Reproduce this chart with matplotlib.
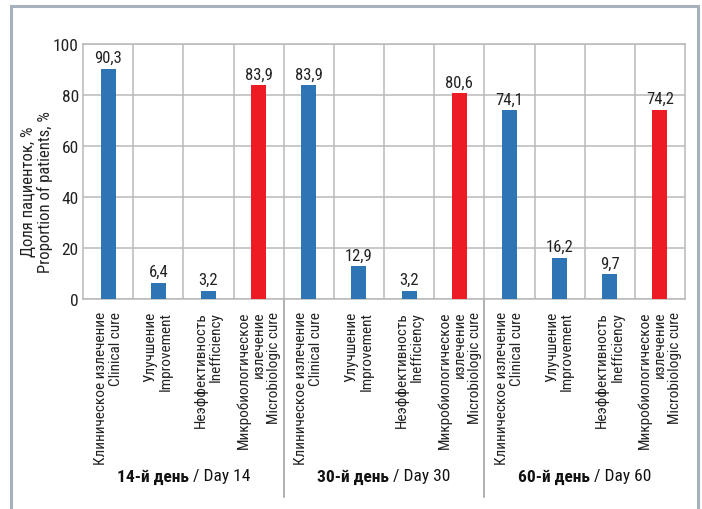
import matplotlib
matplotlib.use("Agg")
import matplotlib.pyplot as plt
from matplotlib.patches import Rectangle
import matplotlib.transforms as mtransforms

plt.rcParams["font.family"] = ["Roboto Condensed", "PT Sans Narrow", "DejaVu Sans"]

# Data
groups_bold = ["14-й день", "30-й день", "60-й день"]
groups_plain = [" / Day 14", " / Day 30", " / Day 60"]
outcomes = [
    "Клиническое излечение\nClinical cure",
    "Улучшение\nImprovement",
    "Неэффективность\nInefficiency",
    "Микробиологическое\nизлечение\nMicrobiologic cure",
]
values_day14 = [90.3, 6.4, 3.2, 83.9]
values_day30 = [83.9, 12.9, 3.2, 80.6]
values_day60 = [74.1, 16.2, 9.7, 74.2]
yticks = [0, 20, 40, 60, 80, 100]

BLUE = "#2e75b6"
RED = "#ed1c24"
GRID = "#b9b9b9"
TEXT = "#222222"

all_values = values_day14 + values_day30 + values_day60
labels = outcomes * 3
colors = [BLUE, BLUE, BLUE, RED] * 3
x = list(range(len(all_values)))

fig = plt.figure(figsize=(7.02, 5.10), dpi=100)
ax = fig.add_axes([83 / 702, 1 - 300 / 510, (685 - 83) / 702, (300 - 45) / 510])

# Outer frame
fig.patches.append(Rectangle((11 / 702, -0.05), (698 - 11) / 702, 1.05 - 7 / 510,
                             transform=fig.transFigure, fill=False,
                             edgecolor="#a7b1bb", linewidth=2.2))

ax.bar(x, all_values, width=0.3, color=colors, zorder=3)
for xi, v in zip(x, all_values):
    ax.text(xi, v + 1.4, f"{v:.1f}".replace(".", ","), ha="center", va="bottom",
            fontsize=12, color=TEXT)

ax.set_xlim(-0.5, len(x) - 0.5)
ax.set_ylim(0, 100)
ax.set_yticks(yticks)
ax.set_yticklabels([str(t) for t in yticks], fontsize=12.5, color=TEXT)
ax.set_xticks(x)
ax.set_xticklabels([])
ax.set_xticks([i - 0.5 for i in range(1, len(x))], minor=True)
ax.tick_params(axis="both", which="both", length=0)
ax.tick_params(axis="y", pad=3)
ax.grid(True, axis="y", color=GRID, linewidth=1.1, zorder=0)
ax.grid(True, axis="x", which="minor", color=GRID, linewidth=1.1, zorder=0)
for s in ax.spines.values():
    s.set_color(GRID)
    s.set_linewidth(1.1)

# Category labels below the axis
trans = mtransforms.blended_transform_factory(ax.transData, ax.transAxes)
for xi, lab in zip(x, labels):
    ax.text(xi, -12 / 255, lab, transform=trans, rotation=90, ha="center", va="top",
            multialignment="right", fontsize=11, color=TEXT, linespacing=1.1)

# Group separators
for b in [3.5, 7.5]:
    ax.plot([b, b], [0, -(498 - 300) / 255], transform=trans, color="#9a9a9a",
            linewidth=1.1, clip_on=False)

# Group titles: bold part + regular part, centred together
fig.canvas.draw()
renderer = fig.canvas.get_renderer()
inv = ax.transData.inverted()
for gi, (gb, gp) in enumerate(zip(groups_bold, groups_plain)):
    cx = gi * 4 + 1.5
    yv = -(477 - 300) / 255
    t1 = ax.text(cx, yv, gb, transform=trans, ha="left", va="center",
                 fontsize=12.5, fontweight="bold", color="#111111")
    t2 = ax.text(cx, yv, gp, transform=trans, ha="left", va="center",
                 fontsize=12.5, color="#111111")
    w1 = t1.get_window_extent(renderer).width
    w2 = t2.get_window_extent(renderer).width
    cx_px = ax.transData.transform((cx, 0))[0]
    start = cx_px - (w1 + w2) / 2
    t1.set_x(inv.transform((start, 0))[0])
    t2.set_x(inv.transform((start + w1, 0))[0])

fig.text(37 / 702, 1 - 192 / 510, "Доля пациенток, %\nProportion of patients, %",
         rotation=90, ha="center", va="center", multialignment="center",
         fontsize=12, color=TEXT, linespacing=1.05)

fig.savefig("out.png", dpi=100)
